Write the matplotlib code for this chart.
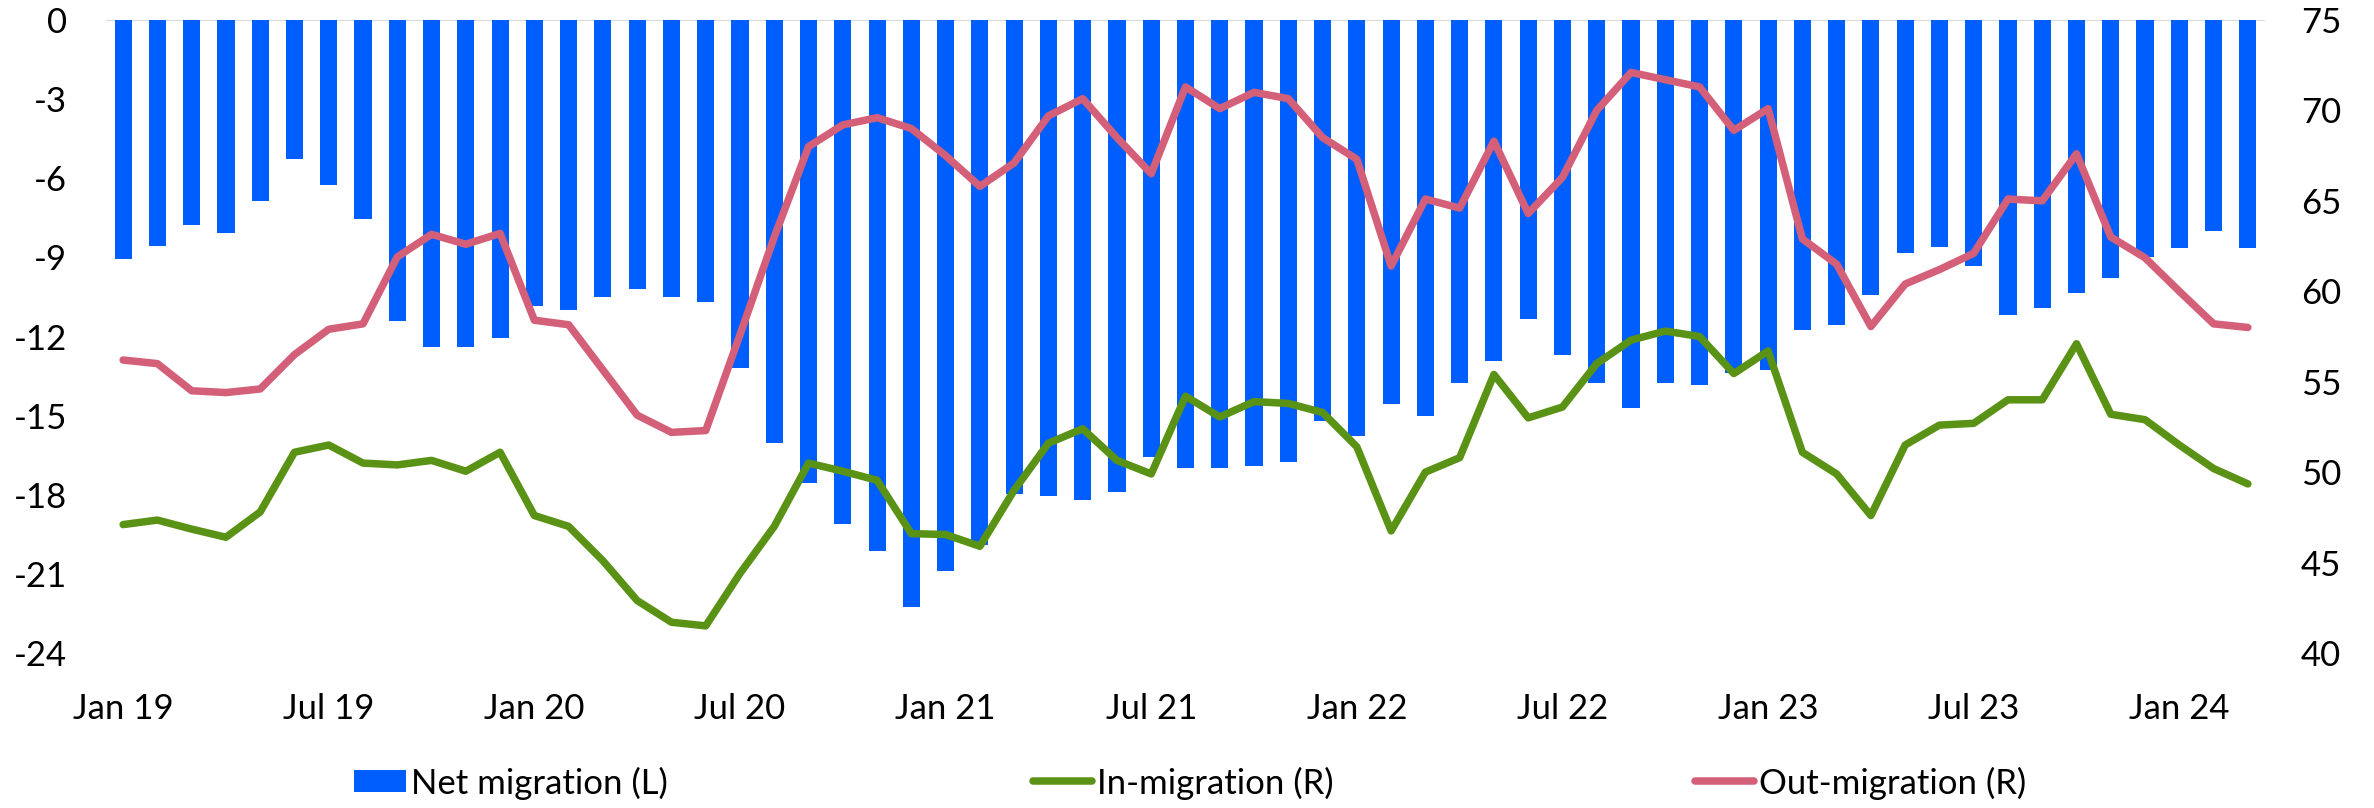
import matplotlib
matplotlib.use("Agg")
import matplotlib.pyplot as plt
from matplotlib.patches import Patch
from matplotlib.lines import Line2D
import numpy as np

plt.rcParams['font.family'] = ['Lato', 'DejaVu Sans']

months = ["Jan", "Feb", "Mar", "Apr", "May", "Jun", "Jul", "Aug", "Sep", "Oct", "Nov", "Dec"]
categories = [f"{m} {y}" for y in range(19, 25) for m in months][:63]

net_migration = [-9.05, -8.58, -7.77, -8.09, -6.88, -5.26, -6.24, -7.53, -11.41, -12.38, -12.38, -12.05,
                 -10.84, -11.0, -10.52, -10.19, -10.52, -10.68, -13.19, -16.04, -17.56, -19.1, -20.15, -22.26,
                 -20.88, -19.9, -17.97, -18.06, -18.2, -17.89, -16.58, -17.0, -17.0, -16.91, -16.75, -15.19,
                 -15.79, -14.56, -15.03, -13.76, -12.94, -11.33, -12.70, -13.76, -14.72, -13.76, -13.84, -13.4,
                 -13.28, -11.74, -11.57, -10.44, -8.83, -8.59, -9.31, -11.17, -10.93, -10.36, -9.79, -8.98,
                 -8.66, -8.0, -8.66]

in_migration = [47.1, 47.35, 46.85, 46.4, 47.8, 51.1, 51.5, 50.5, 50.4, 50.65, 50.05, 51.1,
                47.6, 47.0, 45.1, 42.9, 41.7, 41.5, 44.4, 47.0, 50.5, 50.05, 49.55, 46.6,
                46.55, 45.9, 49.0, 51.6, 52.4, 50.65, 49.9, 54.2, 53.05, 53.9, 53.8, 53.3,
                51.4, 46.75, 50.0, 50.8, 55.4, 53.0, 53.6, 56.0, 57.3, 57.8, 57.5, 55.45,
                56.7, 51.1, 49.9, 47.6, 51.5, 52.6, 52.7, 54.0, 54.0, 57.1, 53.2, 52.9,
                51.5, 50.2, 49.35]

out_migration = [56.2, 56.0, 54.5, 54.4, 54.6, 56.5, 57.9, 58.2, 61.9, 63.15, 62.6, 63.2,
                 58.4, 58.15, 55.65, 53.15, 52.2, 52.3, 57.6, 63.0, 68.0, 69.2, 69.6, 69.0,
                 67.5, 65.8, 67.1, 69.7, 70.65, 68.5, 66.5, 71.3, 70.1, 71.0, 70.65, 68.5,
                 67.3, 61.4, 65.1, 64.6, 68.3, 64.3, 66.3, 70.0, 72.1, 71.7, 71.3, 68.9,
                 70.1, 62.9, 61.5, 58.05, 60.4, 61.2, 62.1, 65.1, 65.0, 67.6, 63.0, 61.85,
                 60.0, 58.2, 58.0]

left_ticks = [0, -3, -6, -9, -12, -15, -18, -21, -24]
right_ticks = [75, 70, 65, 60, 55, 50, 45, 40]

BLUE = '#005EFF'
GREEN = '#5A9216'
RED = '#D35F78'
FS = 25
LW = 5.4

fig = plt.figure(figsize=(23.74, 8.08), dpi=100)
ax = fig.add_axes([106/2374, 1-653/808, (2265-106)/2374, (653-20)/808])
x = np.arange(len(categories))
ax.bar(x, net_migration, width=0.5, color=BLUE, zorder=2)
ax.axhline(0, color='#D9D9D9', lw=1.5, zorder=1)
ax.set_xlim(-0.5, len(categories) - 0.5)
ax.set_ylim(-24, 0)
ax.set_yticks(left_ticks)
ax.set_yticklabels([str(t) for t in left_ticks])
tick_idx = list(range(0, len(categories), 6))
ax.set_xticks(tick_idx)
ax.set_xticklabels([categories[i] for i in tick_idx])
ax.tick_params(axis='both', length=0, labelsize=FS)
ax.tick_params(axis='y', pad=28)
ax.tick_params(axis='x', pad=29)
for s in ax.spines.values():
    s.set_visible(False)

ax2 = ax.twinx()
ax2.plot(x, in_migration, color=GREEN, lw=LW, solid_joinstyle='round', solid_capstyle='round', zorder=3)
ax2.plot(x, out_migration, color=RED, lw=LW, solid_joinstyle='round', solid_capstyle='round', zorder=3)
ax2.set_ylim(40, 75)
ax2.set_yticks(right_ticks)
ax2.tick_params(axis='y', length=0, labelsize=FS, pad=26)
for s in ax2.spines.values():
    s.set_visible(False)

yleg = 1 - 783/808
common = dict(loc='center left', frameon=False, fontsize=FS, borderpad=0, borderaxespad=0,
              handletextpad=0.15)
fig.legend(handles=[Patch(facecolor=BLUE, edgecolor='none', label='Net migration (L)')],
           bbox_to_anchor=(354/2374, yleg), handlelength=1.5, handleheight=0.6, **common)
fig.legend(handles=[Line2D([0], [0], color=GREEN, lw=LW, solid_capstyle='round', label='In-migration (R)')],
           bbox_to_anchor=(1033/2374, yleg), handlelength=1.7, **common)
fig.legend(handles=[Line2D([0], [0], color=RED, lw=LW, solid_capstyle='round', label='Out-migration (R)')],
           bbox_to_anchor=(1695/2374, yleg), handlelength=1.7, **common)

fig.savefig('out.png', dpi=100)
